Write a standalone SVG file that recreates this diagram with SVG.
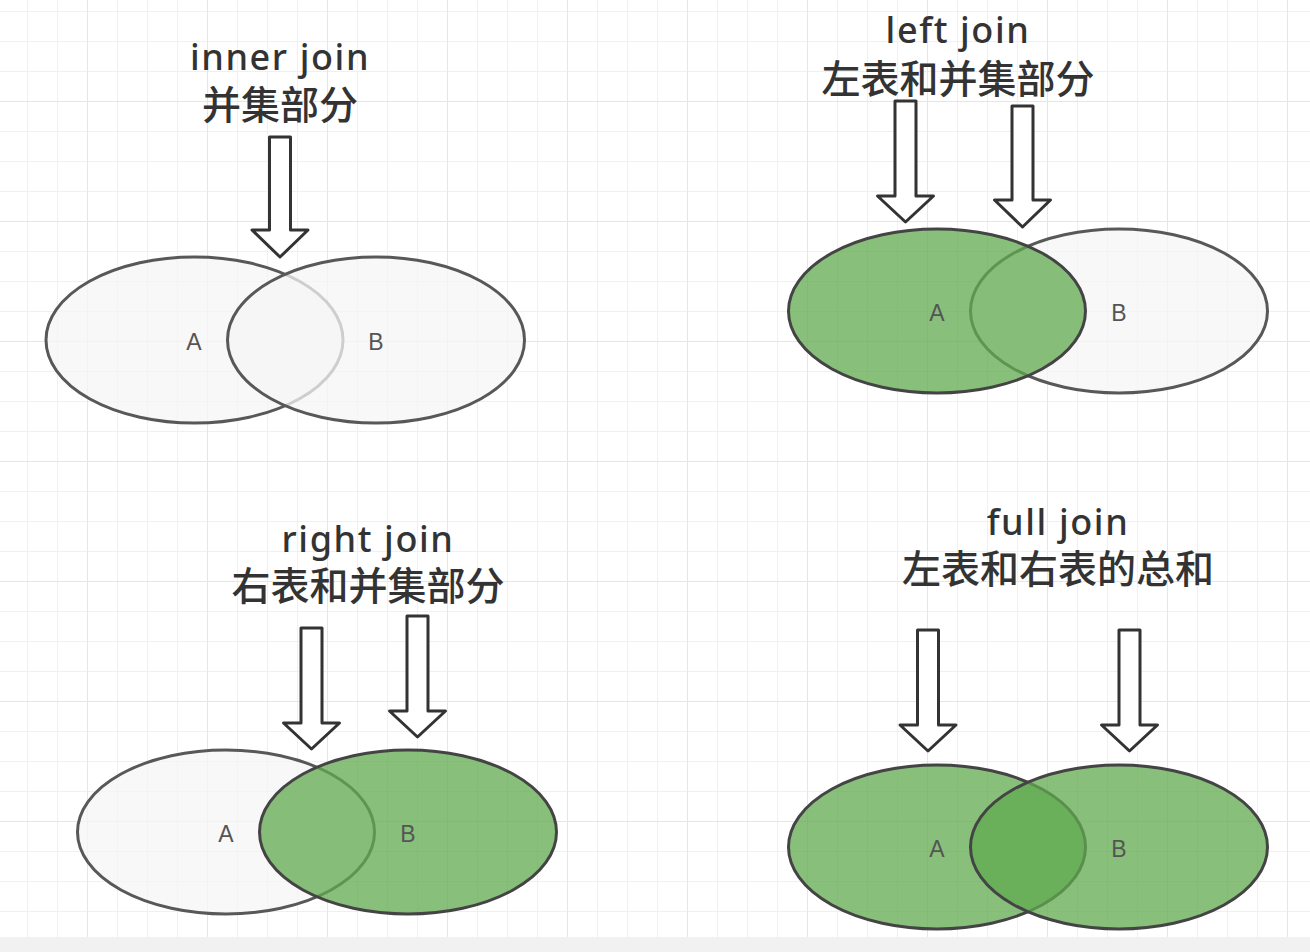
<svg xmlns="http://www.w3.org/2000/svg" width="1310" height="952" viewBox="0 0 1310 952">
<defs>
<pattern id="minor" x="27" y="11" width="30" height="30" patternUnits="userSpaceOnUse">
<path d="M0 0 V30 M0 0 H30" fill="none" stroke="#f0f0f0" stroke-width="2"/>
</pattern>
<pattern id="major" x="87" y="101" width="120" height="120" patternUnits="userSpaceOnUse">
<path d="M0 0 V120 M0 0 H120" fill="none" stroke="#e6e6e6" stroke-width="2"/>
</pattern>
</defs>
<style>
.gray{fill:#f5f5f5;fill-opacity:0.75;stroke:#585858;stroke-width:3}
.green{fill:#60ab4f;fill-opacity:0.75;stroke:#444;stroke-width:3}
.arrow{fill:#fff;stroke:#333;stroke-width:3;stroke-linejoin:round}
.lbl{font-family:"Liberation Sans",Arial,sans-serif;font-size:23px;fill:#555;text-anchor:middle}
.en{font-family:"Noto Sans","Open Sans",sans-serif;font-size:36px;font-weight:500;fill:#333;text-anchor:middle;letter-spacing:1.6px}
.cn{font-family:"Noto Sans CJK SC",sans-serif;font-size:39px;font-weight:500;fill:#333;text-anchor:middle}
</style>
<rect width="1310" height="952" fill="#fff"/>
<rect width="1310" height="952" fill="url(#minor)"/>
<rect width="1310" height="952" fill="url(#major)"/>
<rect x="0" y="937" width="1310" height="15" fill="#f1f1f1"/>

<g id="inner-join">
<g id="inner-title"><text class="en" x="280" y="70">inner join</text><text class="cn" x="280" y="119">并集部分</text></g>
<g id="inner-arrow"><path class="arrow" d="M269.5 137 H290.5 V230 H308 L280 257 L252 230 H269.5 Z"/></g>
<g id="inner-A"><ellipse class="gray" cx="194.5" cy="340" rx="148.5" ry="83"/><text class="lbl" x="194" y="350">A</text></g>
<g id="inner-B"><ellipse class="gray" cx="376" cy="340" rx="148.5" ry="83"/><text class="lbl" x="376" y="350">B</text></g>
</g>

<g id="left-join">
<g id="left-title"><text class="en" x="958" y="43">left join</text><text class="cn" x="958" y="93">左表和并集部分</text></g>
<g id="left-arrow-1"><path class="arrow" d="M895 101 H916 V196 H933.5 L905.5 222 L877.5 196 H895 Z"/></g>
<g id="left-arrow-2"><path class="arrow" d="M1012 106 H1033 V200 H1050.5 L1022.5 227 L994.5 200 H1012 Z"/></g>
<g id="left-B"><ellipse class="gray" cx="1119" cy="311" rx="148.5" ry="82"/><text class="lbl" x="1119" y="321">B</text></g>
<g id="left-A"><ellipse class="green" cx="937" cy="311" rx="148.5" ry="82"/><text class="lbl" x="937" y="321">A</text></g>
</g>

<g id="right-join">
<g id="right-title"><text class="en" x="368" y="552">right join</text><text class="cn" x="368" y="600">右表和并集部分</text></g>
<g id="right-arrow-1"><path class="arrow" d="M301 628 H322 V723 H339.5 L311.5 749 L283.5 723 H301 Z"/></g>
<g id="right-arrow-2"><path class="arrow" d="M407 616 H428 V711 H445.5 L417.5 737 L389.5 711 H407 Z"/></g>
<g id="right-A"><ellipse class="gray" cx="226" cy="832" rx="148.5" ry="82"/><text class="lbl" x="226" y="842">A</text></g>
<g id="right-B"><ellipse class="green" cx="408" cy="832" rx="148.5" ry="82"/><text class="lbl" x="408" y="842">B</text></g>
</g>

<g id="full-join">
<g id="full-title"><text class="en" x="1058" y="535">full join</text><text class="cn" x="1058" y="583">左表和右表的总和</text></g>
<g id="full-arrow-1"><path class="arrow" d="M917.5 630 H938.5 V725 H956 L928 751 L900 725 H917.5 Z"/></g>
<g id="full-arrow-2"><path class="arrow" d="M1119 630 H1140 V725 H1157.5 L1129.5 751 L1101.5 725 H1119 Z"/></g>
<g id="full-A"><ellipse class="green" cx="937" cy="847" rx="148.5" ry="82"/><text class="lbl" x="937" y="857">A</text></g>
<g id="full-B"><ellipse class="green" cx="1119" cy="847" rx="148.5" ry="82"/><text class="lbl" x="1119" y="857">B</text></g>
</g>
<g id="connectors"/>
</svg>
